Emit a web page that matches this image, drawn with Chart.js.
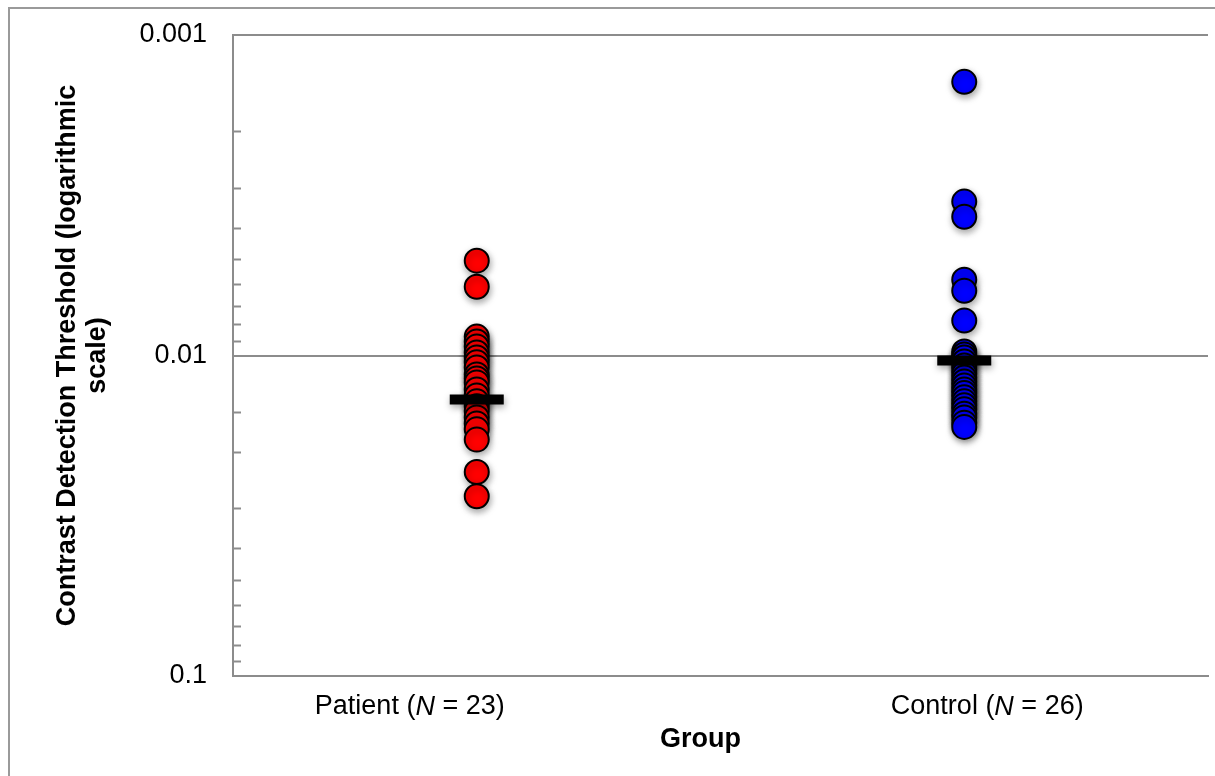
<!DOCTYPE html>
<html>
<head>
<meta charset="utf-8">
<script src="https://cdn.jsdelivr.net/npm/chart.js@4.4.1/dist/chart.umd.min.js"></script>
<style>
  html, body { margin: 0; padding: 0; background: #fff; overflow: hidden; }
  #wrap { position: relative; width: 1215px; height: 776px; }
  #frame { position: absolute; left: 8px; top: 7px; right: -5px; bottom: -5px; border-left: 2px solid #9a9a9a; border-top: 2px solid #9a9a9a; }
  #chart { position: absolute; left: 0; top: 0; }
</style>
</head>
<body>
<div id="wrap">
  <div id="frame"></div>
  <canvas id="chart" width="1215" height="776"></canvas>
</div>
<script>
// groups on the x axis
const groups = ['Patient', 'Control'];
const groupN = [23, 26];

// contrast detection thresholds
const patientValues = [
  0.00506, 0.00610, 0.00873, 0.00904, 0.00937, 0.00979, 0.01014, 0.0105,
  0.0109, 0.01146, 0.0118, 0.01213, 0.01276, 0.01333, 0.0139, 0.0144,
  0.0149, 0.0156, 0.0163, 0.0170, 0.0183, 0.0231, 0.0275
];
const controlValues = [
  0.00140, 0.00331, 0.00369, 0.00580, 0.00628, 0.00778, 0.00972, 0.00993,
  0.01014, 0.01044, 0.01074, 0.01106, 0.01138, 0.01172, 0.01205, 0.0124,
  0.01276, 0.0131, 0.0135, 0.0139, 0.0143, 0.0147, 0.0152, 0.0156,
  0.0162, 0.0167
];
// group means (black bars)
const groupMeans = [0.01371, 0.01036];

// y tick labels that are shown
const yTickLabels = [0.001, 0.01, 0.1];

const FONT = '"Liberation Sans", Arial, sans-serif';

const isMajor = v => Math.abs(Math.log10(v) - Math.round(Math.log10(v))) < 1e-6;

// soft drop shadow under the markers
const shadowPlugin = {
  id: 'shadow',
  beforeDatasetsDraw(chart) {
    const ctx = chart.ctx;
    ctx.save();
    ctx.shadowColor = 'rgba(0,0,0,0.35)';
    ctx.shadowBlur = 7;
    ctx.shadowOffsetX = 1;
    ctx.shadowOffsetY = 3;
  },
  afterDatasetsDraw(chart) {
    chart.ctx.restore();
  }
};

// minor tick marks inside the plot and the x axis texts (with italic N)
const axisTextPlugin = {
  id: 'axisText',
  afterDraw(chart) {
    const ctx = chart.ctx;
    const area = chart.chartArea;
    const y = chart.scales.y;
    ctx.save();
    ctx.strokeStyle = '#8c8c8c';
    ctx.lineWidth = 2;
    y.ticks.forEach(t => {
      if (isMajor(t.value)) return;
      const py = Math.round(y.getPixelForValue(t.value)) + 0.5;
      ctx.beginPath();
      ctx.moveTo(area.left, py);
      ctx.lineTo(area.left + 8, py);
      ctx.stroke();
    });

    const x = chart.scales.x;
    const shifts = [-67, 23];
    ctx.fillStyle = '#000';
    ctx.textBaseline = 'middle';
    ctx.textAlign = 'left';
    groups.forEach((g, i) => {
      const segs = [
        [g + ' (', 'normal 27px ' + FONT],
        ['N', 'italic 27px ' + FONT],
        [' = ' + groupN[i] + ')', 'normal 27px ' + FONT]
      ];
      let w = 0;
      segs.forEach(s => { ctx.font = s[1]; w += ctx.measureText(s[0]).width; });
      let cx = x.getPixelForValue(i) + shifts[i] - w / 2;
      segs.forEach(s => {
        ctx.font = s[1];
        ctx.fillText(s[0], cx, 707);
        cx += ctx.measureText(s[0]).width;
      });
    });
    ctx.font = 'bold 27px ' + FONT;
    ctx.textAlign = 'center';
    ctx.fillText('Group', (area.left + area.right) / 2 - 20, 740);
    ctx.restore();
  }
};

new Chart(document.getElementById('chart'), {
  type: 'scatter',
  data: {
    labels: groups,
    datasets: [
      {
        label: 'Mean',
        data: groupMeans.map((v, i) => ({ x: groups[i], y: v })),
        pointStyle: 'line',
        pointRadius: 27,
        pointHoverRadius: 27,
        borderWidth: 10,
        pointBorderWidth: 10,
        borderColor: '#000',
        backgroundColor: '#000',
        order: 0
      },
      {
        label: 'Patient',
        data: patientValues.map(v => ({ x: groups[0], y: v })),
        pointRadius: 12,
        pointBorderWidth: 2,
        backgroundColor: '#ff0000',
        borderColor: '#000',
        order: 1
      },
      {
        label: 'Control',
        data: controlValues.map(v => ({ x: groups[1], y: v })),
        pointRadius: 12,
        pointBorderWidth: 2,
        backgroundColor: '#0000ff',
        borderColor: '#000',
        order: 1
      }
    ]
  },
  options: {
    responsive: false,
    animation: false,
    layout: { autoPadding: false, padding: { top: 35, right: 7, bottom: 0, left: 0 } },
    plugins: {
      legend: { display: false },
      tooltip: { enabled: false }
    },
    scales: {
      x: {
        type: 'category',
        offset: true,
        grid: { display: false, drawTicks: false },
        border: { color: '#8c8c8c', width: 2 },
        ticks: { display: false },
        afterFit: s => { s.height = 100; }
      },
      y: {
        type: 'logarithmic',
        reverse: true,
        min: 0.001,
        max: 0.1,
        border: { color: '#8c8c8c', width: 2 },
        grid: {
          drawTicks: false,
          lineWidth: 2,
          color: c => (c.tick && isMajor(c.tick.value)) ? '#8c8c8c' : 'rgba(0,0,0,0)'
        },
        ticks: {
          autoSkip: false,
          padding: 26,
          color: '#000',
          font: { family: FONT, size: 27 },
          callback: v => {
            const hit = yTickLabels.find(t => Math.abs(t - v) / t < 1e-6);
            return hit === undefined ? '' : String(hit);
          }
        },
        title: {
          display: true,
          text: ['Contrast Detection Threshold (logarithmic', 'scale)'],
          color: '#000',
          font: { family: FONT, size: 27, weight: 'bold', lineHeight: 1.12 },
          padding: { top: 52, bottom: 0 }
        },
        afterFit: s => { s.width = 233; s.paddingTop = 0; }
      }
    }
  },
  plugins: [shadowPlugin, axisTextPlugin]
});
</script>
</body>
</html>
